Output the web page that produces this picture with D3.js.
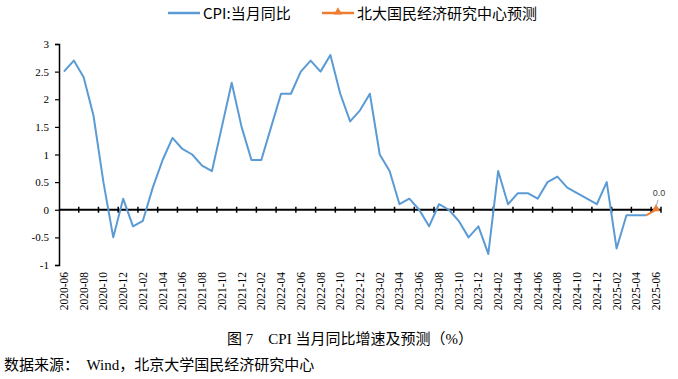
<!DOCTYPE html>
<html><head><meta charset="utf-8">
<script src="https://cdn.jsdelivr.net/npm/d3@7"></script>
<style>body{margin:0;background:#fff}svg{display:block}</style>
</head><body><svg id="c" width="678" height="379"></svg>
<script>
const months = [];
for (let y = 2020; y <= 2025; y++) for (let m = 1; m <= 12; m++) {
  if ((y === 2020 && m < 6) || (y === 2025 && m > 6)) continue;
  months.push(y + "-" + String(m).padStart(2, "0"));
}
const cpi = [2.5,2.7,2.4,1.7,0.5,-0.5,0.2,
  -0.3,-0.2,0.4,0.9,1.3,1.1,1.0,0.8,0.7,1.5,2.3,1.5,
  0.9,0.9,1.5,2.1,2.1,2.5,2.7,2.5,2.8,2.1,1.6,1.8,
  2.1,1.0,0.7,0.1,0.2,0.0,-0.3,0.1,0.0,-0.2,-0.5,-0.3,
  -0.8,0.7,0.1,0.3,0.3,0.2,0.5,0.6,0.4,0.3,0.2,0.1,
  0.5,-0.7,-0.1,-0.1,-0.1];
const forecastCats = ["2025-05","2025-06"];
const forecast = [-0.1, 0.0];
const yTicks = [-1,-0.5,0,0.5,1,1.5,2,2.5,3];
const yTickLabels = ["-1","-0.5","0","0.5","1","1.5","2","2.5","3"];
const seriesNames = ["CPI:当月同比","北大国民经济研究中心预测"];
const title = "图 7\u00a0\u00a0\u00a0\u00a0CPI 当月同比增速及预测（%）";
const source = "数据来源：\u00a0 Wind，北京大学国民经济研究中心";

const svg = d3.select("#c");
const L = 59, R = 661, T = 44, B = 265;
const x = d3.scaleBand().domain(months).range([L, R]);
const y = d3.scaleLinear().domain([-1, 3]).range([B, T]);
const cx = d => x(d) + x.bandwidth()/2;
const serif = "'Liberation Serif','Times New Roman',serif";
const cjk = "'Liberation Serif','Noto Sans CJK SC',sans-serif";
const cjkSans = "'Noto Sans CJK SC',sans-serif";

// y axis
const yAxis = d3.axisLeft(y).tickValues(yTicks).tickSize(4)
  .tickFormat((d,i) => yTickLabels[i]);
const gy = svg.append("g").attr("transform", `translate(${L},0)`).call(yAxis);
gy.select(".domain").attr("stroke","#000").attr("stroke-width",1.5);
gy.selectAll(".tick line").attr("stroke","#000").attr("stroke-width",1.2);
gy.selectAll(".tick text").attr("font-family",serif).attr("font-size",11).attr("fill","#000").attr("x",-10);

// x axis at zero
const gx = svg.append("g").attr("transform", `translate(0,${y(0)})`);
gx.append("line").attr("x1",L).attr("x2",R).attr("stroke","#000").attr("stroke-width",2);
const tickIdx = months.map((m,i)=>i).filter(i => i % 2 === 0 && i > 0);
gx.selectAll("line.tk").data(tickIdx).join("line").attr("class","tk")
  .attr("x1", i => x(months[i])).attr("x2", i => x(months[i]))
  .attr("y1",-3).attr("y2",3).attr("stroke","#000").attr("stroke-width",1.5);
gx.append("line").attr("x1",R).attr("x2",R).attr("y1",-3).attr("y2",3).attr("stroke","#000").attr("stroke-width",1.5);

// x labels
svg.append("g").selectAll("text").data(months.filter((m,i)=>i%2===0)).join("text")
  .attr("transform", d => `translate(${cx(d)+4},${B+7}) rotate(-90)`)
  .attr("text-anchor","end").attr("font-family",serif).attr("font-size",11.5)
  .attr("fill","#000").text(d => d);

// CPI line
const line = d3.line().x(d => cx(d[0])).y(d => y(d[1]));
svg.append("path").datum(months.slice(0, cpi.length).map((m,i)=>[m,cpi[i]]))
  .attr("d", line).attr("fill","none").attr("stroke","#5B9BD5").attr("stroke-width",2)
  .attr("stroke-linejoin","round");

// forecast
const fd = forecastCats.map((m,i)=>[m,forecast[i]]);
svg.append("path").datum(fd).attr("d", line).attr("fill","none")
  .attr("stroke","#ED7D31").attr("stroke-width",2);
const tri = d3.symbol().type(d3.symbolTriangle).size(30);
svg.append("path").attr("d", tri())
  .attr("transform", `translate(${cx(forecastCats[1])},${y(forecast[1])-1})`)
  .attr("fill","#ED7D31");
// data label
const lx = cx(forecastCats[1]), ly = y(forecast[1]);
svg.append("line").attr("x1",lx).attr("y1",ly-3).attr("x2",lx+2).attr("y2",ly-10)
  .attr("stroke","#a6a6a6").attr("stroke-width",1);
svg.append("text").attr("x",lx+3).attr("y",ly-14).attr("text-anchor","middle")
  .attr("font-family","'Liberation Sans',Arial,sans-serif").attr("font-size",9).attr("fill","#404040")
  .text(d3.format(".1f")(forecast[1]));

// legend
const lg = svg.append("g");
lg.append("line").attr("x1",168).attr("x2",200).attr("y1",13).attr("y2",13).attr("stroke","#5B9BD5").attr("stroke-width",2.5);
lg.append("text").attr("x",203).attr("y",19).attr("font-family",cjkSans).attr("font-size",15).attr("fill","#000").text(seriesNames[0]);
lg.append("line").attr("x1",322).attr("x2",354).attr("y1",13).attr("y2",13).attr("stroke","#ED7D31").attr("stroke-width",2.5);
lg.append("path").attr("d", tri()).attr("transform","translate(338,12)").attr("fill","#ED7D31");
lg.append("text").attr("x",357).attr("y",19).attr("font-family",cjkSans).attr("font-size",15).attr("fill","#000").text(seriesNames[1]);

// title & source
svg.append("text").attr("x",350).attr("y",344).attr("text-anchor","middle")
  .attr("font-family",cjk).attr("font-size",15).attr("fill","#000").text(title);
svg.append("text").attr("x",4).attr("y",370)
  .attr("font-family",cjk).attr("font-size",15).attr("fill","#000").text(source);
</script></body></html>
